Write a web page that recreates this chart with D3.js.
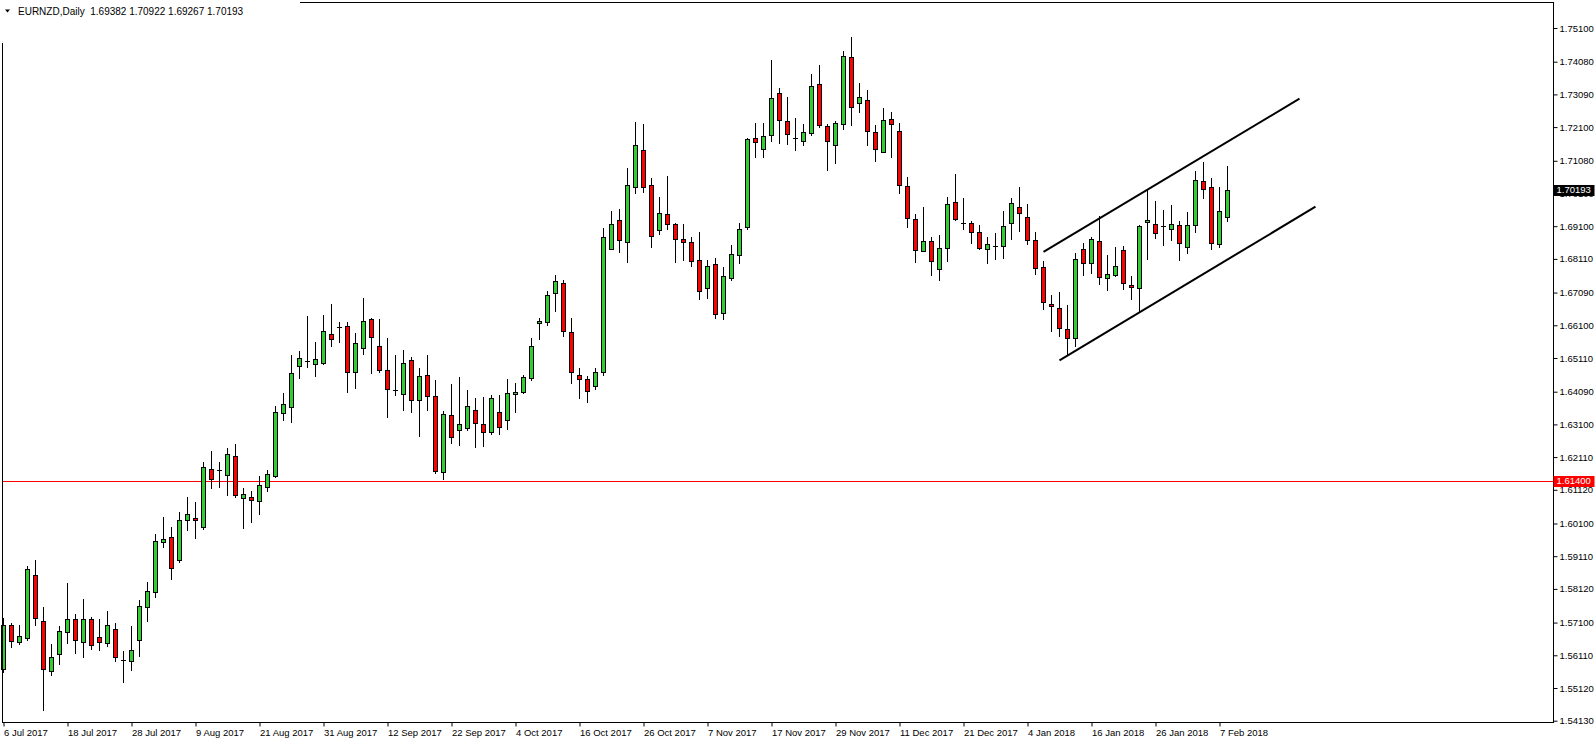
<!DOCTYPE html>
<html><head><meta charset="utf-8">
<script src="https://cdn.jsdelivr.net/npm/d3@7"></script>
<style>
body{margin:0;background:#fff}
svg{display:block}
text{font-family:"Liberation Sans",Arial,sans-serif;fill:#000}
</style>
</head><body>
<svg id="c" width="1596" height="744"></svg>
<script>
// ---------------- DATA ----------------
const symbolTitle = "EURNZD,Daily";
const startDate = "2017-07-06";
const holidays = ["2017-12-25", "2018-01-01"];

const opens = [1.5569,1.5703,1.5651,1.5663,1.5854,1.5715,1.5563,1.5615,1.5681,1.5721,
1.5651,1.5721,1.5666,1.5648,1.5690,1.5597,1.5594,1.5657,1.5757,1.5802,
1.5954,1.5969,1.5899,1.6020,1.6027,1.5999,1.6175,1.6172,1.6157,1.6214,
1.6087,1.6090,1.6078,1.6121,1.6154,1.6344,1.6363,1.6487,1.6502,1.6493,
1.6496,1.6584,1.6606,1.6608,1.6469,1.6541,1.6629,1.6547,1.6475,1.6414,
1.6402,1.6505,1.6384,1.6459,1.6396,1.6166,1.6338,1.6293,1.6299,1.6354,
1.6311,1.6287,1.6347,1.6323,1.6402,1.6408,1.6450,1.6617,1.6620,1.6708,
1.6738,1.6590,1.6459,1.6447,1.6426,1.6469,1.6841,1.6929,1.6862,1.7029,
1.7141,1.7035,1.6899,1.6947,1.6917,1.6871,1.6862,1.6808,1.6723,1.6795,
1.6647,1.6753,1.6823,1.6908,1.7177,1.7144,1.7186,1.7313,1.7228,1.7177,
1.7168,1.7192,1.7340,1.7213,1.7156,1.7219,1.7422,1.7283,1.7292,1.7195,
1.7135,1.7235,1.7198,1.7032,1.6932,1.6835,1.6865,1.6780,1.6844,1.6983,
1.6920,1.6920,1.6892,1.6841,1.6850,1.6850,1.6920,1.6968,1.6938,1.6868,
1.6786,1.6674,1.6662,1.6599,1.6571,1.6841,1.6799,1.6865,1.6753,1.6762,
1.6838,1.6732,1.6723,1.6923,1.6917,1.6911,1.6902,1.6914,1.6847,1.6914,
1.7047,1.7029,1.6856,1.69382];
const highs = [1.5724,1.5709,1.5703,1.5881,1.5899,1.5757,1.5645,1.5700,1.5830,1.5736,
1.5781,1.5727,1.5721,1.5745,1.5709,1.5624,1.5700,1.5778,1.5833,1.5978,
1.6030,1.5999,1.6045,1.6090,1.6075,1.6196,1.6229,1.6196,1.6238,1.6251,
1.6117,1.6108,1.6154,1.6172,1.6366,1.6405,1.6520,1.6532,1.6638,1.6559,
1.6641,1.6674,1.6620,1.6620,1.6587,1.6693,1.6632,1.6629,1.6571,1.6520,
1.6535,1.6514,1.6481,1.6520,1.6444,1.6350,1.6432,1.6453,1.6414,1.6390,
1.6393,1.6399,1.6399,1.6447,1.6435,1.6459,1.6571,1.6632,1.6714,1.6762,
1.6747,1.6632,1.6481,1.6456,1.6481,1.6905,1.6956,1.6962,1.7086,1.7224,
1.7218,1.7056,1.6999,1.7062,1.6920,1.6917,1.6877,1.6893,1.6808,1.6814,
1.6786,1.6853,1.6920,1.7177,1.7221,1.7221,1.7413,1.7328,1.7301,1.7237,
1.7219,1.7371,1.7398,1.7219,1.7228,1.7440,1.7483,1.7343,1.7322,1.7216,
1.7268,1.7256,1.7222,1.7059,1.6947,1.6968,1.6877,1.6883,1.6998,1.7068,
1.6995,1.6926,1.6914,1.6877,1.6889,1.6956,1.6995,1.7029,1.6977,1.6893,
1.6805,1.6701,1.6711,1.6671,1.6829,1.6859,1.6877,1.6941,1.6823,1.6847,
1.6850,1.6759,1.6914,1.7020,1.6986,1.6959,1.6974,1.6926,1.6953,1.7077,
1.7104,1.7056,1.7029,1.70922];
const lows = [1.5560,1.5636,1.5645,1.5657,1.5703,1.5445,1.5551,1.5585,1.5648,1.5618,
1.5606,1.5630,1.5627,1.5639,1.5594,1.5530,1.5566,1.5609,1.5715,1.5787,
1.5939,1.5842,1.5893,1.5990,1.5966,1.5993,1.6117,1.6121,1.6096,1.6090,
1.5996,1.6014,1.6039,1.6108,1.6151,1.6323,1.6317,1.6450,1.6484,1.6456,
1.6493,1.6547,1.6559,1.6408,1.6420,1.6523,1.6466,1.6469,1.6332,1.6399,
1.6354,1.6347,1.6275,1.6354,1.6163,1.6145,1.6254,1.6248,1.6293,1.6242,
1.6245,1.6281,1.6281,1.6296,1.6347,1.6405,1.6444,1.6568,1.6611,1.6653,
1.6578,1.6435,1.6390,1.6378,1.6417,1.6459,1.6841,1.6832,1.6801,1.7010,
1.7014,1.6846,1.6886,1.6902,1.6801,1.6808,1.6789,1.6690,1.6693,1.6632,
1.6629,1.6747,1.6799,1.6902,1.7119,1.7119,1.7168,1.7162,1.7159,1.7141,
1.7156,1.7186,1.7210,1.7080,1.7101,1.7204,1.7216,1.7255,1.7156,1.7107,
1.7135,1.7119,1.7010,1.6907,1.6802,1.6835,1.6762,1.6747,1.6805,1.6929,
1.6902,1.6859,1.6841,1.6799,1.6811,1.6814,1.6871,1.6896,1.6856,1.6765,
1.6659,1.6593,1.6578,1.6520,1.6547,1.6762,1.6768,1.6735,1.6717,1.6759,
1.6720,1.6690,1.6653,1.6811,1.6874,1.6853,1.6868,1.6808,1.6829,1.6893,
1.6995,1.6841,1.6847,1.69267];
const closes = [1.5703,1.5654,1.5669,1.5872,1.5724,1.5569,1.5606,1.5684,1.5721,1.5657,
1.5721,1.5642,1.5651,1.5703,1.5606,1.5596,1.5627,1.5760,1.5805,1.5957,
1.5963,1.5875,1.6020,1.6039,1.6020,1.6181,1.6145,1.6172,1.6220,1.6096,
1.6099,1.6081,1.6126,1.6160,1.6347,1.6372,1.6466,1.6511,1.6502,1.6508,
1.6593,1.6568,1.6605,1.6469,1.6556,1.6623,1.6575,1.6475,1.6417,1.6414,
1.6496,1.6384,1.6456,1.6396,1.6169,1.6341,1.6272,1.6311,1.6366,1.6314,
1.6287,1.6390,1.6302,1.6405,1.6408,1.6453,1.6547,1.6623,1.6702,1.6744,
1.6593,1.6469,1.6447,1.6411,1.6469,1.6877,1.6917,1.6868,1.7035,1.7156,
1.7029,1.6880,1.6950,1.6917,1.6871,1.6862,1.6805,1.6714,1.6789,1.6644,
1.6759,1.6826,1.6902,1.7174,1.7165,1.7183,1.7298,1.7232,1.7189,1.7177,
1.7195,1.7334,1.7216,1.7168,1.7222,1.7425,1.7271,1.7301,1.7198,1.7144,
1.7232,1.7219,1.7035,1.6935,1.6838,1.6865,1.6805,1.6844,1.6977,1.6932,
1.6920,1.6892,1.6844,1.6856,1.6850,1.6911,1.6980,1.6950,1.6868,1.6783,
1.6680,1.6668,1.6602,1.6571,1.6811,1.6799,1.6871,1.6756,1.6765,1.6789,
1.6738,1.6726,1.6911,1.6929,1.6889,1.6911,1.6917,1.6859,1.6914,1.7050,
1.7023,1.6859,1.6956,1.70193];

const xTickLabels = ["6 Jul 2017","18 Jul 2017","28 Jul 2017","9 Aug 2017","21 Aug 2017",
"31 Aug 2017","12 Sep 2017","22 Sep 2017","4 Oct 2017","16 Oct 2017","26 Oct 2017",
"7 Nov 2017","17 Nov 2017","29 Nov 2017","11 Dec 2017","21 Dec 2017","4 Jan 2018",
"16 Jan 2018","26 Jan 2018","7 Feb 2018"];
const yTickValues = [1.75100,1.74080,1.73090,1.72100,1.71080,1.70100,1.69100,1.68110,
1.67090,1.66100,1.65110,1.64090,1.63100,1.62110,1.61120,1.60100,1.59110,1.58120,
1.57100,1.56110,1.55120,1.54130];
const levelPrice = 1.61400;
// channel lines: bar index (may extend past last bar) and price
const channelUpper = [{bar:130, price:1.6832},{bar:162, price:1.7296}];
const channelLower = [{bar:132, price:1.6504},{bar:164, price:1.6969}];

// ---------------- BUILD ----------------
const parse = d3.timeParse("%Y-%m-%d");
const fmtKey = d3.timeFormat("%Y-%m-%d");
const fmtLabel = d3.timeFormat("%-d %b %Y");
const dates = [];
{
  let d = parse(startDate);
  while (dates.length < opens.length) {
    const wd = d.getDay();
    if (wd !== 0 && wd !== 6 && !holidays.includes(fmtKey(d))) dates.push(new Date(d));
    d = d3.timeDay.offset(d, 1);
  }
}
const bars = opens.map((o, i) => ({i, date: dates[i], o, h: highs[i], l: lows[i], c: closes[i]}));

const W = 1596, H = 744;
const plotLeft = 2.5, plotRight = 1553.5, plotTop = 2.5, plotBottom = 722.5;
const GREEN = "#32CD32", RED = "#FF0000";

const x = d3.scaleLinear().domain([0, 1]).range([3.5, 11.5]);
const y = d3.scaleLinear().domain([1.5413, 1.751]).range([720.7, 28]);

const svg = d3.select("#c");
svg.append("rect").attr("width", W).attr("height", H).attr("fill", "#fff");

// support/level line
const ly = Math.round(y(levelPrice)) + 0.5;
svg.append("line").attr("x1", plotLeft).attr("x2", plotRight).attr("y1", ly).attr("y2", ly)
  .attr("stroke", RED).attr("stroke-width", 1);

// candles
const g = svg.append("g");
bars.forEach(b => {
  const cx = x(b.i);
  g.append("line").attr("x1", cx).attr("x2", cx)
    .attr("y1", Math.round(y(b.h))).attr("y2", Math.round(y(b.l)) + 1)
    .attr("stroke", "#000").attr("stroke-width", 1);
  const top = Math.round(y(Math.max(b.o, b.c)));
  const bot = Math.round(y(Math.min(b.o, b.c)));
  if (bot - top < 2) {
    g.append("line").attr("x1", cx - 2.5).attr("x2", cx + 2.5)
      .attr("y1", top + 0.5).attr("y2", top + 0.5).attr("stroke", "#000").attr("stroke-width", 1);
  } else {
    g.append("rect").attr("x", cx - 2).attr("width", 4)
      .attr("y", top + 0.5).attr("height", bot - top)
      .attr("fill", b.c >= b.o ? GREEN : RED).attr("stroke", "#000").attr("stroke-width", 1);
  }
});

// channel lines
const lineGen = d3.line().x(d => x(d.bar)).y(d => y(d.price));
[channelUpper, channelLower].forEach(ch => {
  svg.append("path").attr("d", lineGen(ch)).attr("fill", "none")
    .attr("stroke", "#000").attr("stroke-width", 2);
});

// frame
svg.append("rect").attr("x", plotLeft).attr("y", plotTop)
  .attr("width", plotRight - plotLeft).attr("height", plotBottom - plotTop)
  .attr("fill", "none").attr("stroke", "#000").attr("stroke-width", 1);

// header box (covers frame corner)
svg.append("rect").attr("x", 0).attr("y", 0).attr("width", 300).attr("height", 43).attr("fill", "#fff");
svg.append("path").attr("d", "M5,9.5 L10,9.5 L7.5,12.5 Z").attr("fill", "#000");
const last = bars[bars.length - 1];
svg.append("text").attr("x", 18).attr("y", 14.5).style("font-size", "10px").style("white-space", "pre")
  .text(`${symbolTitle}  ${last.o.toFixed(5)} ${last.h.toFixed(5)} ${last.l.toFixed(5)} ${last.c.toFixed(5)}`);

// right axis
const yAxis = d3.axisRight(y).tickValues(yTickValues).tickFormat(d3.format(".5f"))
  .tickSize(4).tickPadding(2);
const ya = svg.append("g").attr("transform", `translate(${plotRight},0)`).call(yAxis);
ya.select(".domain").remove();
ya.selectAll("text").style("font-size", "9.5px").attr("fill", "#000").style("font-family", '"Liberation Sans",Arial,sans-serif');
ya.selectAll("line").attr("stroke", "#000");

// bottom axis
const tickIdx = xTickLabels.map(lbl => bars.findIndex(b => fmtLabel(b.date) === lbl));
const xAxis = d3.axisBottom(x).tickValues(tickIdx).tickFormat((d, k) => xTickLabels[k])
  .tickSize(4).tickPadding(3);
const xa = svg.append("g").attr("transform", `translate(0,${plotBottom})`).call(xAxis);
xa.select(".domain").remove();
xa.selectAll("text").attr("text-anchor", "start").attr("x", 0)
  .style("font-size", "9.5px").attr("fill", "#000").style("font-family", '"Liberation Sans",Arial,sans-serif');
xa.selectAll("line").attr("stroke", "#000");

// price labels on axis
function priceTag(price, bg) {
  const py = Math.round(y(price));
  const gg = svg.append("g");
  gg.append("rect").attr("x", plotRight).attr("y", py - 5).attr("width", 41).attr("height", 11).attr("fill", bg);
  gg.append("text").attr("x", plotRight + 3).attr("y", py).attr("dy", "0.35em")
    .style("font-size", "9.5px").style("fill", "#fff").text(price.toFixed(5));
}
priceTag(last.c, "#000");
priceTag(levelPrice, RED);
</script>
</body></html>
